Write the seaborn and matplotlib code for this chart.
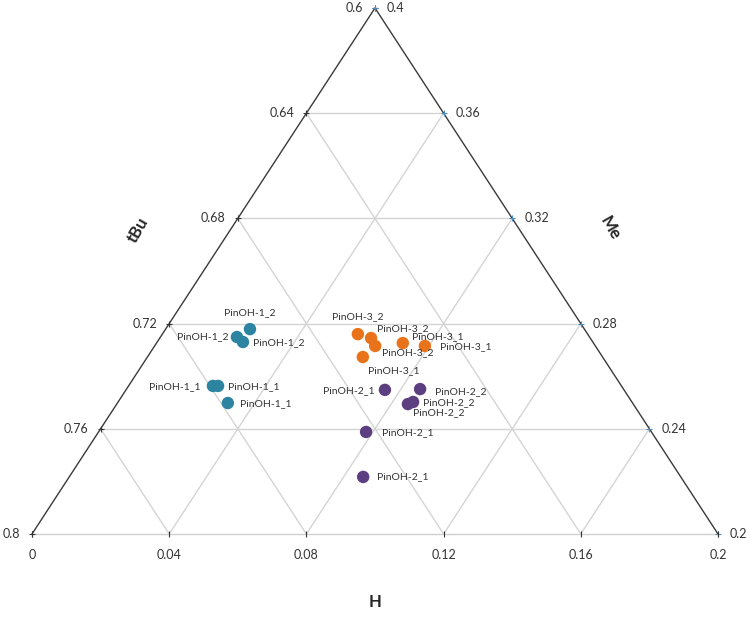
import pandas as pd
import matplotlib
matplotlib.use("Agg")
import matplotlib.pyplot as plt
import seaborn as sns

# Zoomed ternary window: H 0..0.2, Me 0.2..0.4, tBu 0.6..0.8
H_MIN = 0.0
ME_MIN = 0.2
TBU_MIN = 0.6
SPAN = 0.2

# PinOH-1 series (teal)
pin1_labels = ["PinOH-1_2", "PinOH-1_2", "PinOH-1_2", "PinOH-1_1", "PinOH-1_1", "PinOH-1_1"]
pin1_H = [0.0246, 0.0223, 0.0250, 0.0246, 0.0261, 0.0322]
pin1_Me = [0.2779, 0.2749, 0.2730, 0.2563, 0.2563, 0.2498]

# PinOH-3 series (orange)
pin3_labels = ["PinOH-3_2", "PinOH-3_2", "PinOH-3_2", "PinOH-3_1", "PinOH-3_1", "PinOH-3_1"]
pin3_H = [0.0570, 0.0616, 0.0643, 0.0628, 0.0718, 0.0788]
pin3_Me = [0.2760, 0.2745, 0.2715, 0.2673, 0.2726, 0.2715]

# PinOH-2 series (purple)
pin2_labels = ["PinOH-2_1", "PinOH-2_2", "PinOH-2_2", "PinOH-2_2", "PinOH-2_1", "PinOH-2_1"]
pin2_H = [0.0755, 0.0856, 0.0860, 0.0849, 0.0780, 0.0857]
pin2_Me = [0.2548, 0.2551, 0.2502, 0.2494, 0.2388, 0.2217]

GROUPS = ["PinOH-1", "PinOH-3", "PinOH-2"]
PALETTE = {"PinOH-1": "#2C84A0", "PinOH-3": "#E8731A", "PinOH-2": "#5C3F80"}

H_TICKS = [0, 0.04, 0.08, 0.12, 0.16, 0.2]
ME_TICKS = [0.2, 0.24, 0.28, 0.32, 0.36, 0.4]
TBU_TICKS = [0.6, 0.64, 0.68, 0.72, 0.76, 0.8]

# label placement (pixel offsets from the point, alignment)
pin1_offsets = [(0, 16, "center"), (-8, 0, "right"), (10, -1, "left"),
                (-12, -1, "right"), (10, -1, "left"), (12, -1, "left")]
pin3_offsets = [(0, 17, "center"), (6, 9, "left"), (7, -7, "left"),
                (5, -14, "left"), (9, 6, "left"), (15, -1, "left")]
pin2_offsets = [(-10, -1, "right"), (15, -3, "left"), (10, -1, "left"),
                (5, -9, "left"), (16, -1, "left"), (14, 0, "left")]


def to_xy(h_val, me_val):
    """Ternary (H, Me) -> cartesian in the normalised window."""
    h = (h_val - H_MIN) / SPAN
    m = (me_val - ME_MIN) / SPAN
    return h + m / 2, m


def build_frame():
    rows = []
    for grp, labs, hs, mes, offs in [
        ("PinOH-1", pin1_labels, pin1_H, pin1_Me, pin1_offsets),
        ("PinOH-3", pin3_labels, pin3_H, pin3_Me, pin3_offsets),
        ("PinOH-2", pin2_labels, pin2_H, pin2_Me, pin2_offsets),
    ]:
        for lab, hv, mv, off in zip(labs, hs, mes, offs):
            x, y = to_xy(hv, mv)
            rows.append({"group": grp, "label": lab, "x": x, "y": y,
                         "dx": off[0], "dy": off[1], "ha": off[2]})
    return pd.DataFrame(rows)


sns.set_style("white")
plt.rcParams["font.family"] = ["Lato", "DejaVu Sans"]

fig = plt.figure(figsize=(7.5, 6.17), dpi=100)
W, Hpx = 750, 617
ax = fig.add_axes([32 / W, (Hpx - 534) / Hpx, 686 / W, 526 / Hpx])
ax.set_xlim(0, 1)
ax.set_ylim(0, 1)
ax.axis("off")

grid_kw = dict(color="#d4d4d4", lw=1.0, zorder=1, clip_on=False)
# constant H lines (parallel to left edge)
for v in H_TICKS[1:-1]:
    h = (v - H_MIN) / SPAN
    ax.plot([h, h + (1 - h) / 2], [0, 1 - h], **grid_kw)
# constant Me lines (horizontal)
for v in ME_TICKS[1:-1]:
    m = (v - ME_MIN) / SPAN
    ax.plot([m / 2, 1 - m / 2], [m, m], **grid_kw)
# constant tBu lines (parallel to right edge)
for v in TBU_TICKS[1:-1]:
    t = (v - TBU_MIN) / SPAN
    ax.plot([(1 - t) / 2, 1 - t], [1 - t, 0], **grid_kw)

# triangle edges
ax.plot([0, 1], [0, 0], color="#cfcfcf", lw=1.0, zorder=2, clip_on=False)
ax.plot([0, 0.5, 1], [0, 1, 0], color="#3a3a3a", lw=1.0, zorder=2, clip_on=False)

tick_fs = 9
# left axis (tBu)
for v in TBU_TICKS:
    t = (v - TBU_MIN) / SPAN
    x, y = (1 - t) / 2, 1 - t
    ax.plot(x, y, marker="+", ms=4, color="#333333", mew=0.8, clip_on=False, zorder=3)
    ax.annotate(f"{v:g}", (x, y), xytext=(-12, 0), textcoords="offset pixels",
                ha="right", va="center", fontsize=tick_fs, color="#333333")
# right axis (Me)
for v in ME_TICKS:
    m = (v - ME_MIN) / SPAN
    x, y = 1 - m / 2, m
    ax.plot(x, y, marker="+", ms=4, color="#4a8fc0", mew=0.8, clip_on=False, zorder=3)
    ax.annotate(f"{v:g}", (x, y), xytext=(12, 0), textcoords="offset pixels",
                ha="left", va="center", fontsize=tick_fs, color="#333333")
# bottom axis (H)
for v in H_TICKS:
    h = (v - H_MIN) / SPAN
    ax.plot(h, 0, marker="|", ms=4, color="#333333", mew=0.8, clip_on=False, zorder=3)
    ax.annotate(f"{v:g}", (h, 0), xytext=(0, -21), textcoords="offset pixels",
                ha="center", va="center", fontsize=tick_fs, color="#333333")

# axis titles
ax.text(0.5, -0.129, "H", ha="center", va="center", fontsize=12, fontweight="bold")
ax.text(0.1545, 0.578, "tBu", ha="center", va="center", fontsize=12,
        fontweight="bold", rotation=60)
ax.text(0.8426, 0.582, "Me", ha="center", va="center", fontsize=12,
        fontweight="bold", rotation=-60)

df = build_frame()
sns.scatterplot(data=df, x="x", y="y", hue="group", hue_order=GROUPS,
                palette=PALETTE, s=80, edgecolor="none", legend=False,
                ax=ax, zorder=4, clip_on=False)

for _, r in df.iterrows():
    ax.annotate(r["label"], (r["x"], r["y"]), xytext=(r["dx"], r["dy"]),
                textcoords="offset pixels", ha=r["ha"], va="center",
                fontsize=7.5, color="#333333", zorder=5)

fig.savefig("out.png", dpi=100)
